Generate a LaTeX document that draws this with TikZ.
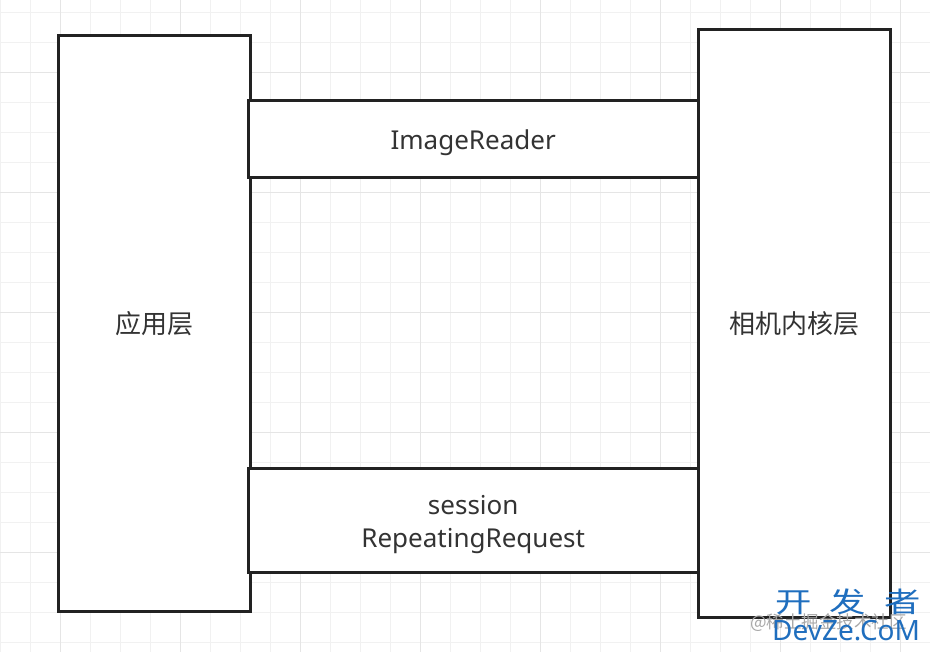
\documentclass[tikz,border=0pt]{standalone}
\usepackage{fontspec}
\setmainfont{Noto Sans}
\newfontfamily\cjk{Noto Sans CJK SC}
\definecolor{linecol}{HTML}{222222}
\definecolor{textcol}{HTML}{333333}
\definecolor{minorcol}{HTML}{F1F1F1}
\definecolor{majorcol}{HTML}{E5E5E5}
\definecolor{wmblue}{HTML}{1F6EBE}
\definecolor{wmgray}{HTML}{A8A8A8}

\begin{document}
\begin{tikzpicture}[x=1pt,y=-1pt,
  box/.style={draw=linecol,line width=3pt,fill=white,inner sep=0pt,outer sep=0pt,
    text=textcol,align=center,font=\fontsize{26}{33}\selectfont},
  layer/.style={box,minimum width=192pt},
  band/.style={box,minimum width=449.7pt},
  bandtext/.style={inner sep=0pt,text=textcol,align=center,font=\fontsize{26}{33}\selectfont},
  minorgrid/.style={draw=minorcol,line width=1pt},
  majorgrid/.style={draw=majorcol,line width=1.5pt}]
\useasboundingbox (0,0) rectangle (930,652);
\fill[white] (0,0) rectangle (930,652);
\draw[minorgrid] foreach \gx in {0.7,30.7,...,930} {(\gx,0) -- (\gx,652)};
\draw[minorgrid] foreach \gy in {12.7,42.7,...,652} {(0,\gy) -- (930,\gy)};
\draw[majorgrid] foreach \gx in {60.7,180.7,...,930} {(\gx,0) -- (\gx,652)};
\draw[majorgrid] foreach \gy in {72.7,192.7,...,652} {(0,\gy) -- (930,\gy)};
\node[layer,minimum height=575pt] (app) at (154.2,323.5) {\cjk 应用层};
\node[layer,minimum height=587pt] (kernel) at (794.2,323.5) {\cjk 相机内核层};
\node[band,minimum height=77.7pt] (reader) at (473.2,138.9) {};
\node[band,minimum height=104.5pt] (request) at (473.2,520.7) {};
\node[bandtext] (readerlbl) at ([yshift=-3.5pt]reader.center) {ImageReader};
\node[bandtext] (requestlbl) at ([yshift=-3.5pt]request.center) {session\\RepeatingRequest};
\node[anchor=base west,inner sep=0pt,text=wmgray,font=\cjk\fontsize{17.5}{20}\selectfont]
  (wmsite) at (750,628) {@稀土掘金技术社区};
\node[anchor=base west,inner sep=0pt,text=wmblue,xscale=1.3,
  font=\cjk\fontsize{28}{30}\selectfont]
  (wmtop) at (775,612) {\spaceskip 14pt 开 发 者};
\node[anchor=base west,inner sep=0pt,text=wmblue,font=\fontsize{28}{30}\selectfont]
  (wmbottom) at (772,640) {DevZe.CoM};
\end{tikzpicture}
\end{document}
